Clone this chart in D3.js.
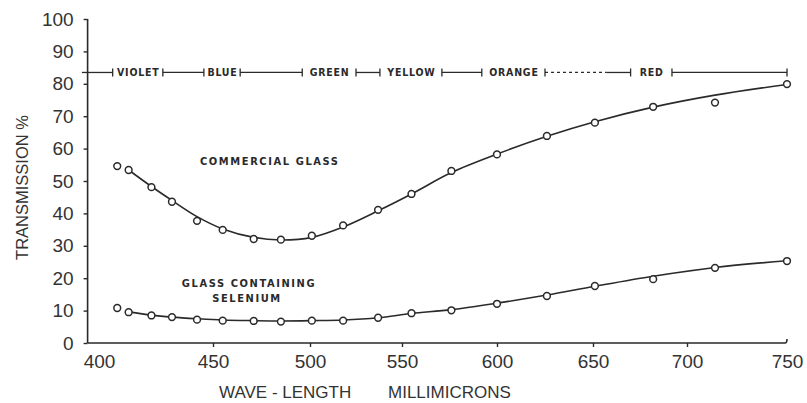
<!DOCTYPE html>
<html>
<head>
<meta charset="utf-8">
<script src="https://cdn.jsdelivr.net/npm/d3@7"></script>
<style>
  body { margin: 0; background: #fff; }
  text { font-family: "Liberation Sans", Arial, sans-serif; fill: #333; }
  .hand { font-family: "DejaVu Sans Condensed", "DejaVu Sans", sans-serif; font-weight: bold; fill: #2a2a2a; }
</style>
</head>
<body>
<svg id="chart" width="807" height="403"></svg>
<script>
// wave-length (millimicrons) of each measured point
const wavelengths = [408, 413, 423, 432, 443, 455, 471, 485, 501, 518, 537, 555, 576, 600, 626, 651, 682, 714, 750];
const commercial  = [54.6, 53.4, 48.1, 43.6, 37.7, 34.9, 32.1, 31.9, 33.1, 36.3, 41.1, 46.0, 53.1, 58.2, 63.9, 68.0, 72.9, 74.2, 79.9];
const selenium    = [10.8, 9.5, 8.5, 8.0, 7.2, 6.9, 6.8, 6.6, 6.9, 6.9, 7.8, 9.2, 10.1, 12.1, 14.5, 17.6, 19.7, 23.2, 25.3];

// the drawn (smoothed) curves
const curveNm         = [413, 423, 432, 443, 455, 471, 485, 501, 518, 537, 555, 576, 600, 626, 651, 682, 714, 750];
const commercialCurve = [53.4, 48.3, 44.0, 39.0, 35.2, 32.6, 31.8, 32.6, 35.8, 40.8, 46.0, 52.6, 58.3, 63.8, 68.3, 72.8, 76.5, 79.8];
const seleniumCurve   = [9.6, 8.6, 8.0, 7.5, 7.1, 6.9, 6.8, 6.9, 7.1, 7.8, 9.1, 10.3, 12.3, 14.8, 17.5, 20.6, 23.3, 25.4];

// colour band along the top
const bandNames = ['VIOLET', 'BLUE', 'GREEN', 'YELLOW', 'ORANGE', 'RED'];
const bandStart = [406, 446, 496, 538, 592, 670];
const bandEnd   = [428, 464, 525, 571, 625, 692];
const bandLevel = 83.5;
const dashedStretch = [625, 657];

const xTicks = [400, 450, 500, 550, 600, 650, 700, 750];
const yTicks = [0, 10, 20, 30, 40, 50, 60, 70, 80, 90, 100];

// the original hand-drawn axis is not evenly spaced, so the scale is piecewise
const xTickPx = [99, 213, 310, 402, 497, 593, 687, 787];

const svg = d3.select('#chart');
const x = d3.scaleLinear().domain(xTicks).range(xTickPx);
const y = d3.scaleLinear().domain([0, 100]).range([343, 19]);
const ink = '#2a2a2a';

// axes
const xAxisStart = x(395);
svg.append('line')
  .attr('x1', xAxisStart).attr('x2', xAxisStart)
  .attr('y1', y(100)).attr('y2', y(0))
  .attr('stroke', ink).attr('stroke-width', 1.6);
svg.append('path')
  .attr('d', `M${xAxisStart},${y(0)}L${x(750) - 2},${y(0)}Q${x(750)},${y(0)} ${x(750)},${y(0) - 4}`)
  .attr('fill', 'none').attr('stroke', ink).attr('stroke-width', 1.6);

const yAxis = svg.append('g')
  .attr('transform', `translate(${xAxisStart},0)`)
  .call(d3.axisLeft(y).tickValues(yTicks).tickSize(4).tickPadding(10));
yAxis.select('.domain').remove();
yAxis.selectAll('line').attr('stroke', ink).attr('stroke-width', 1.4);
yAxis.selectAll('text').style('font-size', '19px').attr('fill', '#333');

const xAxis = svg.append('g')
  .attr('transform', `translate(0,${y(0)})`)
  .call(d3.axisBottom(x).tickValues(xTicks).tickSize(4).tickPadding(8));
xAxis.select('.domain').remove();
xAxis.selectAll('line').attr('stroke', ink).attr('stroke-width', 1.4)
  .attr('display', d => (d === 400 || d === 750) ? 'none' : null);
xAxis.selectAll('text').style('font-size', '19px').attr('fill', '#333');

// axis titles
svg.append('text')
  .attr('transform', `translate(28,${y(48)}) rotate(-90)`)
  .attr('text-anchor', 'middle')
  .style('font-size', '16.5px')
  .text('TRANSMISSION %');
svg.append('text').attr('x', 219).attr('y', 398).style('font-size', '17px').text('WAVE - LENGTH');
svg.append('text').attr('x', 388).attr('y', 398).style('font-size', '17px').text('MILLIMICRONS');

// colour band
const by = y(bandLevel);
const band = svg.append('g').attr('stroke', ink).attr('stroke-width', 1.3);
const gaps = [[392.5, bandStart[0]]];
for (let i = 1; i < bandNames.length; i++) gaps.push([bandEnd[i - 1], bandStart[i]]);
gaps.push([bandEnd[bandNames.length - 1], 750]);
gaps.forEach(g => {
  if (g[0] === dashedStretch[0]) {
    band.append('line').attr('x1', x(g[0])).attr('x2', x(dashedStretch[1]))
      .attr('y1', by).attr('y2', by).attr('stroke-dasharray', '3,3');
    band.append('line').attr('x1', x(dashedStretch[1])).attr('x2', x(g[1]))
      .attr('y1', by).attr('y2', by);
  } else {
    band.append('line').attr('x1', x(g[0])).attr('x2', x(g[1]))
      .attr('y1', by).attr('y2', by);
  }
});
bandStart.concat(bandEnd).concat([750]).forEach(v => {
  band.append('line').attr('x1', x(v)).attr('x2', x(v))
    .attr('y1', by - 4).attr('y2', by + 4);
});
svg.selectAll('.bandLabel').data(bandNames).enter().append('text')
  .attr('class', 'hand')
  .attr('x', (d, i) => (x(bandStart[i]) + x(bandEnd[i])) / 2 + 0.5)
  .attr('y', by + 4)
  .attr('text-anchor', 'middle')
  .style('font-size', '10.5px')
  .style('letter-spacing', '0.8px')
  .text(d => d);

// curves
const line = d3.line()
  .x(d => x(d[0])).y(d => y(d[1]))
  .curve(d3.curveCatmullRom.alpha(0.5));
[commercialCurve, seleniumCurve].forEach(vals => {
  svg.append('path')
    .datum(curveNm.map((n, i) => [n, vals[i]]))
    .attr('d', line)
    .attr('fill', 'none').attr('stroke', ink).attr('stroke-width', 1.6);
});

// measured points
[commercial, selenium].forEach(vals => {
  svg.append('g').selectAll('circle')
    .data(wavelengths.map((n, i) => [n, vals[i]]))
    .enter().append('circle')
    .attr('cx', d => x(d[0])).attr('cy', d => y(d[1]))
    .attr('r', 3.4)
    .attr('fill', '#fff').attr('stroke', ink).attr('stroke-width', 1.5);
});

// curve labels
svg.append('text').attr('class', 'hand').attr('x', 200).attr('y', 165)
  .style('font-size', '11px').style('letter-spacing', '1.6px').text('COMMERCIAL GLASS');
svg.append('text').attr('class', 'hand').attr('x', 249).attr('y', 287)
  .attr('text-anchor', 'middle').style('font-size', '11px').style('letter-spacing', '1.6px')
  .text('GLASS CONTAINING');
svg.append('text').attr('class', 'hand').attr('x', 247).attr('y', 302)
  .attr('text-anchor', 'middle').style('font-size', '11px').style('letter-spacing', '1.6px')
  .text('SELENIUM');
</script>
</body>
</html>
